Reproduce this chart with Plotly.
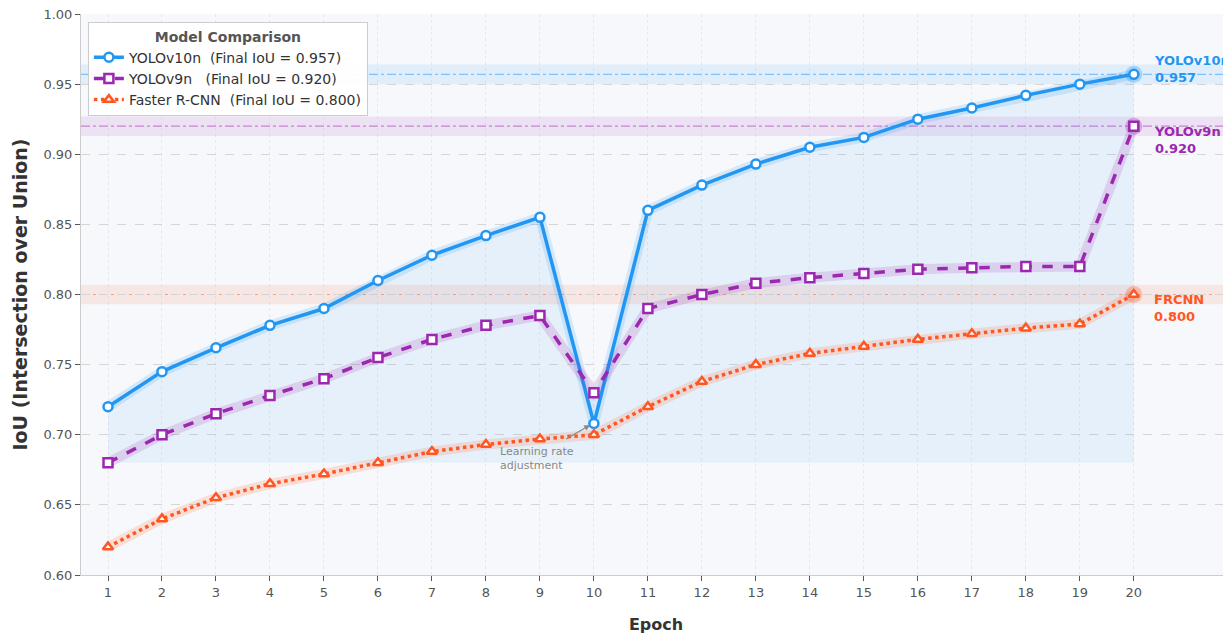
import plotly.graph_objects as go

epochs = list(range(1, 21))
yolov10n = [0.720, 0.745, 0.762, 0.778, 0.790, 0.810, 0.828, 0.842, 0.855, 0.708,
            0.860, 0.878, 0.893, 0.905, 0.912, 0.925, 0.933, 0.942, 0.950, 0.957]
yolov9n = [0.680, 0.700, 0.715, 0.728, 0.740, 0.755, 0.768, 0.778, 0.785, 0.730,
           0.790, 0.800, 0.808, 0.812, 0.815, 0.818, 0.819, 0.820, 0.820, 0.920]
frcnn = [0.620, 0.640, 0.655, 0.665, 0.672, 0.680, 0.688, 0.693, 0.697, 0.700,
         0.720, 0.738, 0.750, 0.758, 0.763, 0.768, 0.772, 0.776, 0.779, 0.800]
fill_floor = 0.68
y_ticks = [0.60, 0.65, 0.70, 0.75, 0.80, 0.85, 0.90, 0.95, 1.00]

series = [
    dict(name="YOLOv10n  (Final IoU = 0.957)", short="YOLOv10n", y=yolov10n,
         color="#2196F3", rgb="33,150,243", dash="solid", sym="circle"),
    dict(name="YOLOv9n   (Final IoU = 0.920)", short="YOLOv9n", y=yolov9n,
         color="#9C27B0", rgb="156,39,176", dash="dash", sym="square"),
    dict(name="Faster R-CNN  (Final IoU = 0.800)", short="FRCNN", y=frcnn,
         color="#FF5722", rgb="255,87,34", dash="dot", sym="triangle-up"),
]

fig = go.Figure()

# fill under YOLOv10n down to floor
fig.add_trace(go.Scatter(x=epochs, y=[fill_floor] * len(epochs), mode="lines",
                         line=dict(width=0), showlegend=False, hoverinfo="skip"))
fig.add_trace(go.Scatter(x=epochs, y=yolov10n, mode="lines", line=dict(width=0),
                         fill="tonexty", fillcolor="rgba(33,150,243,0.08)",
                         showlegend=False, hoverinfo="skip"))

shapes = []
for s in series:
    final = s["y"][-1]
    shapes.append(dict(type="rect", xref="paper", yref="y", x0=0, x1=1,
                       y0=final - 0.007, y1=final + 0.007,
                       fillcolor=f"rgba({s['rgb']},0.10)", line=dict(width=0), layer="below"))
    shapes.append(dict(type="line", xref="paper", yref="y", x0=0, x1=1, y0=final, y1=final,
                       line=dict(color=f"rgba({s['rgb']},0.5)", width=1.2, dash="dashdot"),
                       layer="below"))

for s in series:
    # glow
    fig.add_trace(go.Scatter(x=epochs, y=s["y"], mode="lines",
                             line=dict(color=f"rgba({s['rgb']},0.16)", width=10),
                             showlegend=False, hoverinfo="skip"))
    # halo on final point
    fig.add_trace(go.Scatter(x=[epochs[-1]], y=[s["y"][-1]], mode="markers",
                             marker=dict(size=17, color=f"rgba({s['rgb']},0.3)"),
                             showlegend=False, hoverinfo="skip"))
    fig.add_trace(go.Scatter(x=epochs, y=s["y"], mode="lines+markers", name=s["name"],
                             line=dict(color=s["color"], width=3.5, dash=s["dash"]),
                             marker=dict(symbol=s["sym"], size=9, color="white",
                                         line=dict(color=s["color"], width=2.5))))

annotations = []
label_y = {"YOLOv10n": 0.9605, "YOLOv9n": 0.9105, "FRCNN": 0.7905}
for s in series:
    annotations.append(dict(x=20.33, y=label_y[s["short"]], xref="x", yref="y",
                            text=f"<b>{s['short']}</b><br><b>{s['y'][-1]:.3f}</b>",
                            showarrow=False, xanchor="left", yanchor="middle", align="left",
                            font=dict(family="DejaVu Sans", size=13, color=s["color"])))

annotations.append(dict(x=9.93, y=0.707, ax=9.46, ay=0.6963, xref="x", yref="y",
                        axref="x", ayref="y", text="", showarrow=True, arrowhead=2,
                        arrowsize=1, arrowwidth=1.2, arrowcolor="#888888"))
annotations.append(dict(x=8.22, y=0.6834, xref="x", yref="y",
                        text="Learning rate<br>adjustment", showarrow=False,
                        xanchor="left", yanchor="middle", align="left",
                        font=dict(family="DejaVu Sans", size=11, color="#888888")))

fig.update_layout(
    width=1231, height=639,
    margin=dict(l=73, r=8, t=6, b=72),
    paper_bgcolor="white",
    plot_bgcolor="#F7F8FB",
    font=dict(family="DejaVu Sans", color="#555555"),
    shapes=shapes,
    annotations=annotations,
    legend=dict(
        title=dict(text="<b>Model Comparison</b>", side="top center",
                   font=dict(family="DejaVu Sans", size=14, color="#555555")),
        x=0.006, y=0.985, xanchor="left", yanchor="top",
        bgcolor="rgba(255,255,255,0.95)", bordercolor="#CCCCCC", borderwidth=1,
        font=dict(family="DejaVu Sans", size=14, color="#333333"),
        tracegroupgap=0, traceorder="normal",
    ),
    showlegend=True,
)

fig.update_xaxes(
    range=[0.5, 21.8], tickmode="array", tickvals=epochs, automargin=False,
    ticks="outside", ticklen=5, tickcolor="#555555",
    tickfont=dict(size=13, color="#555555"),
    showgrid=True, gridcolor="rgba(200,200,210,0.35)", griddash="dot", gridwidth=1,
    showline=True, linecolor="#CCCCCC", linewidth=1, zeroline=False,
    title=dict(text="<b>Epoch</b>", font=dict(size=16, color="#333333"), standoff=20),
)
fig.update_yaxes(
    range=[0.6, 1.0], tickmode="array", tickvals=y_ticks, automargin=False,
    ticktext=[f"{v:.2f}" for v in y_ticks],
    ticks="outside", ticklen=5, tickcolor="#555555",
    tickfont=dict(size=13, color="#555555"), ticklabeloverflow="allow",
    showgrid=True, gridcolor="#D5D5D5", griddash="dash", gridwidth=1,
    showline=True, linecolor="#CCCCCC", linewidth=1, zeroline=False,
    title=dict(text="<b>IoU (Intersection over Union)</b>",
               font=dict(size=19, color="#333333"), standoff=10),
)

fig.write_html("out.html")
